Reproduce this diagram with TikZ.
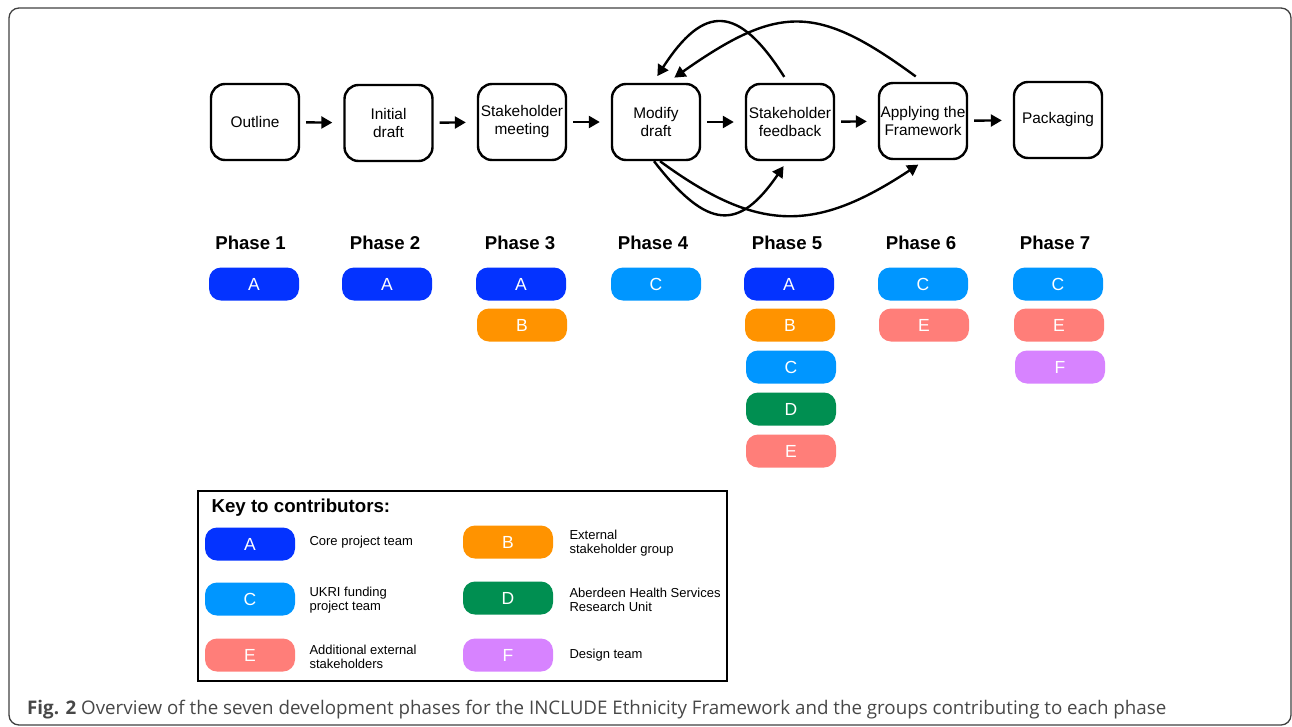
\documentclass[tikz,border=0pt]{standalone}
\usepackage{fontspec}
\setmainfont{Liberation Sans}
\newfontfamily\capfont{Open Sans}
\usetikzlibrary{arrows.meta}

\definecolor{colA}{HTML}{0433FF}
\definecolor{colB}{HTML}{FF9300}
\definecolor{colC}{HTML}{0096FF}
\definecolor{colD}{HTML}{008F51}
\definecolor{colE}{HTML}{FF7E79}
\definecolor{colF}{HTML}{D783FF}

\begin{document}
\begin{tikzpicture}[x=1pt, y=-1pt,
    phasebox/.style={draw, line width=2.4pt, rounded corners=14pt, minimum width=88pt,
        minimum height=76pt, align=center, font=\fontsize{15.4}{18}\selectfont, inner sep=1pt},
    pill/.style={fill=#1, rounded corners=12pt, minimum width=90pt, minimum height=33pt,
        text=white, font=\fontsize{17.5}{17}\selectfont, inner sep=0pt},
    phaselabel/.style={font=\bfseries\fontsize{18.6}{20}\selectfont},
    keytext/.style={anchor=west, align=left, font=\fontsize{13}{14}\selectfont},
    flow/.style={-{Triangle[length=11pt,width=12pt]}, line width=2.4pt}]
    \useasboundingbox (0,0) rectangle (1292,726);
    \draw[black!75, line width=1.3pt, rounded corners=10pt] (9,8) rectangle (1291,725);

    \node[phasebox] (outline) at (255,122) {Outline};
    \node[phasebox] (initial) at (388.5,123) {Initial\\draft};
    \node[phasebox] (meeting) at (522,122) {Stakeholder\\meeting};
    \node[phasebox] (modify) at (656,122) {Modify\\draft};
    \node[phasebox] (feedback) at (790,122) {Stakeholder\\feedback};
    \node[phasebox] (applying) at (923,121) {Applying the\\Framework};
    \node[phasebox] (packaging) at (1058,120) {Packaging};

    \draw[flow, shorten <=6pt, shorten >=11pt] (outline) -- (initial);
    \draw[flow, shorten <=6pt, shorten >=11pt] (initial) -- (meeting);
    \draw[flow, shorten <=6pt, shorten >=11pt] (meeting) -- (modify);
    \draw[flow, shorten <=6pt, shorten >=11pt] (modify) -- (feedback);
    \draw[flow, shorten <=6pt, shorten >=11pt] (feedback) -- (applying);
    \draw[flow, shorten <=6pt, shorten >=11pt] (applying) -- (packaging);

    \draw[flow, shorten <=7pt, shorten >=8pt] ([xshift=-2pt]feedback.north)
        .. controls (738,4) and (704,4) .. ([xshift=-3pt]modify.north);
    \draw[flow, shorten <=9pt, shorten >=9pt] (applying.north)
        .. controls (817,4) and (779,4) .. ([xshift=11pt]modify.north);
    \draw[flow, shorten >=6pt] ([xshift=-2pt]modify.south)
        .. controls (708,231) and (739,231) .. ([xshift=-3pt]feedback.south);
    \draw[flow, shorten >=8pt] ([xshift=4pt]modify.south)
        .. controls (758,233) and (815,233) .. ([xshift=2pt]applying.south);

    \node[phaselabel] (ph1) at (250.5,243) {Phase 1};
    \node[phaselabel] (ph2) at (385,243) {Phase 2};
    \node[phaselabel] (ph3) at (520,243) {Phase 3};
    \node[phaselabel] (ph4) at (653,243) {Phase 4};
    \node[phaselabel] (ph5) at (787,243) {Phase 5};
    \node[phaselabel] (ph6) at (921,243) {Phase 6};
    \node[phaselabel] (ph7) at (1055,243) {Phase 7};

    \node[pill=colA] (p1a) at (254,284) {A};
    \node[pill=colA] (p2a) at (387,284) {A};
    \node[pill=colA] (p3a) at (521,284) {A};
    \node[pill=colB] (p3b) at (522,325) {B};
    \node[pill=colC] (p4c) at (656,284) {C};
    \node[pill=colA] (p5a) at (789,284) {A};
    \node[pill=colB] (p5b) at (790,325) {B};
    \node[pill=colC] (p5c) at (791,367) {C};
    \node[pill=colD] (p5d) at (791,409) {D};
    \node[pill=colE] (p5e) at (791,451) {E};
    \node[pill=colC] (p6c) at (923,284) {C};
    \node[pill=colE] (p6e) at (924,325) {E};
    \node[pill=colC] (p7c) at (1058,284) {C};
    \node[pill=colE] (p7e) at (1059,325) {E};
    \node[pill=colF] (p7f) at (1060,367) {F};

    % key
    \draw[line width=1.2pt] (198,491) rectangle (727,681);
    \node[anchor=west, font=\bfseries\fontsize{18.7}{20}\selectfont] (keytitle) at (208,508) {Key to contributors:};
    \node[pill=colA] (ka) at (250,544) {A};
    \node[pill=colB] (kb) at (508,542) {B};
    \node[pill=colC] (kc) at (250,599) {C};
    \node[pill=colD] (kd) at (508,598) {D};
    \node[pill=colE] (ke) at (250,655) {E};
    \node[pill=colF] (kf) at (508,655) {F};
    \node[keytext] (la) at (306,542) {Core project team};
    \node[keytext] (lb) at (566,543) {External\\stakeholder group};
    \node[keytext] (lc) at (306,600) {UKRI funding\\project team};
    \node[keytext] (ld) at (566,600) {Aberdeen Health Services\\Research Unit};
    \node[keytext] (le) at (306,657) {Additional external\\stakeholders};
    \node[keytext] (lf) at (566,655) {Design team};

    \node[anchor=base west, inner sep=0pt, text=black!72, font=\capfont\fontsize{18.75}{20}\selectfont] (caption) at (27,714)
        {\textbf{Fig. 2} Overview of the seven development phases for the INCLUDE Ethnicity Framework and the groups contributing to each phase};
\end{tikzpicture}
\end{document}
